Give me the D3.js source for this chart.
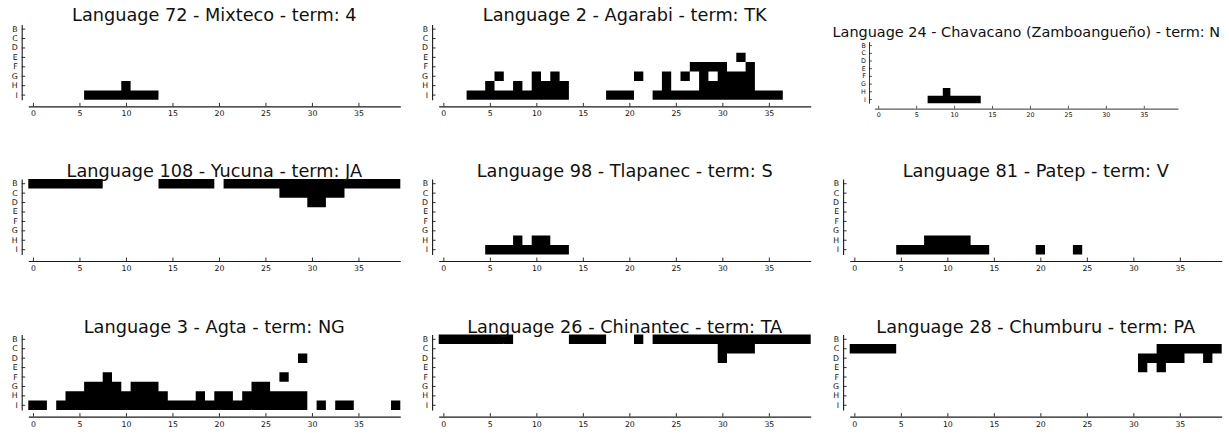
<!DOCTYPE html>
<html>
<head>
<meta charset="utf-8">
<script src="https://cdn.jsdelivr.net/npm/d3@7"></script>
<style>
  html, body { margin: 0; padding: 0; background: #fff; }
  svg { display: block; }
</style>
</head>
<body>
<svg id="chart" width="1229" height="434"></svg>
<script>
// Chip rows (top to bottom) and column ticks shared by every panel
const rows = ["B", "C", "D", "E", "F", "G", "H", "I"];
const xTicks = [0, 5, 10, 15, 20, 25, 30, 35];
const columnCount = 40;

// Panel titles, in reading order
const titles = [
  "Language 72 - Mixteco - term: 4",
  "Language 2 - Agarabi - term: TK",
  "Language 24 - Chavacano (Zamboangueño) - term: N",
  "Language 108 - Yucuna - term: JA",
  "Language 98 - Tlapanec - term: S",
  "Language 81 - Patep - term: V",
  "Language 3 - Agta - term: NG",
  "Language 26 - Chinantec - term: TA",
  "Language 28 - Chumburu - term: PA"
];

// Chips named by each term: [row, columns]
const mixteco = [
  ["H", [10]],
  ["I", [6, 7, 8, 9, 10, 11, 12, 13]]
];
const agarabi = [
  ["E", [32]],
  ["F", [27, 28, 29, 30, 33]],
  ["G", [6, 10, 12, 21, 24, 26, 28, 30, 31, 32, 33]],
  ["H", [5, 8, 10, 11, 12, 13, 24, 28, 29, 30, 31, 32, 33]],
  ["I", [3, 4, 5, 6, 7, 8, 9, 10, 11, 12, 13, 18, 19, 20,
         23, 24, 25, 26, 27, 28, 29, 30, 31, 32, 33, 34, 35, 36]]
];
const chavacano = [
  ["H", [9]],
  ["I", [7, 8, 9, 10, 11, 12, 13]]
];
const yucuna = [
  ["B", [0, 1, 2, 3, 4, 5, 6, 7, 14, 15, 16, 17, 18, 19,
         21, 22, 23, 24, 25, 26, 27, 28, 29, 30, 31, 32, 33, 34, 35, 36, 37, 38, 39]],
  ["C", [27, 28, 29, 30, 31, 32, 33]],
  ["D", [30, 31]]
];
const tlapanec = [
  ["H", [8, 10, 11]],
  ["I", [5, 6, 7, 8, 9, 10, 11, 12, 13]]
];
const patep = [
  ["H", [8, 9, 10, 11, 12]],
  ["I", [5, 6, 7, 8, 9, 10, 11, 12, 13, 14, 20, 24]]
];
const agta = [
  ["D", [29]],
  ["F", [8, 27]],
  ["G", [6, 7, 8, 9, 11, 12, 13, 24, 25]],
  ["H", [4, 5, 6, 7, 8, 9, 10, 11, 12, 13, 14, 18, 20, 21,
         23, 24, 25, 26, 27, 28, 29]],
  ["I", [0, 1, 3, 4, 5, 6, 7, 8, 9, 10, 11, 12, 13, 14, 15, 16, 17, 18, 19, 20,
         21, 22, 23, 24, 25, 26, 27, 28, 29, 31, 33, 34, 39]]
];
const chinantec = [
  ["B", [0, 1, 2, 3, 4, 5, 6, 7, 14, 15, 16, 17, 21,
         23, 24, 25, 26, 27, 28, 29, 30, 31, 32, 33, 34, 35, 36, 37, 38, 39]],
  ["C", [30, 31, 32, 33]],
  ["D", [30]]
];
const chumburu = [
  ["C", [0, 1, 2, 3, 4, 33, 34, 35, 36, 37, 38, 39]],
  ["D", [31, 32, 33, 34, 35, 38]],
  ["E", [31, 33]]
];

const panelCells = [mixteco, agarabi, chavacano, yucuna, tlapanec, patep, agta, chinantec, chumburu];

// Layout: plot-area origin of each panel on the page, and its scale
const colLeft = [28.3, 438.7, 849.7];
const rowTop = [24.4, 179, 334.6];
const titleLift = [3.6, 2.4, 1.5];
const plotW = 372, plotH = 75.4;
const spineGap = 6.6;
const fontFamily = "'DejaVu Sans', sans-serif";

const svg = d3.select("#chart");

panelCells.forEach((cells, i) => {
  const c = i % 3, r = Math.floor(i / 3);
  // the long Chavacano title shrinks that whole panel
  const long = titles[i].length > 40;
  const s = long ? 0.816 : 1;
  const left = long ? 874.5 : colLeft[c];
  const top = long ? 41.8 : rowTop[r];

  const g = svg.append("g")
    .attr("transform", `translate(${left},${top}) scale(${s})`);

  const x = d3.scaleLinear().domain([-0.5, columnCount - 0.5]).range([0, plotW]);
  const y = d3.scaleBand().domain(rows).range([0, plotH]);

  // all chips of a panel go into one path so neighbouring squares fuse without seams
  const p = d3.path();
  cells.forEach(([row, cols]) => {
    cols.forEach(col => {
      const x0 = x(col - 0.5), x1 = x(col + 0.5);
      p.rect(x0, y(row), x1 - x0, y.bandwidth());
    });
  });
  g.append("path")
    .attr("d", p.toString())
    .attr("fill", "#000");

  const xAxis = g.append("g")
    .attr("transform", `translate(0,${plotH + spineGap})`)
    .call(d3.axisBottom(x).tickValues(xTicks).tickSizeInner(-3.5).tickSizeOuter(0).tickPadding(4.5));

  const yAxis = g.append("g")
    .attr("transform", `translate(${-spineGap},0)`)
    .call(d3.axisLeft(y).tickSizeInner(-3.5).tickSizeOuter(0).tickPadding(4));

  [xAxis, yAxis].forEach(ax => {
    ax.attr("font-family", fontFamily).attr("font-size", 7.8);
    ax.select(".domain").attr("stroke", "#1a1a1a").attr("stroke-width", 1.1);
    ax.selectAll(".tick line").attr("stroke", "#1a1a1a").attr("stroke-width", 0.9);
    ax.selectAll(".tick text").attr("fill", "#111");
  });

  g.append("text")
    .attr("x", plotW / 2)
    .attr("y", long ? -5.5 : -titleLift[r])
    .attr("text-anchor", "middle")
    .attr("font-family", fontFamily)
    .attr("font-size", 17.7)
    .attr("fill", "#111")
    .text(titles[i]);
});
</script>
</body>
</html>
